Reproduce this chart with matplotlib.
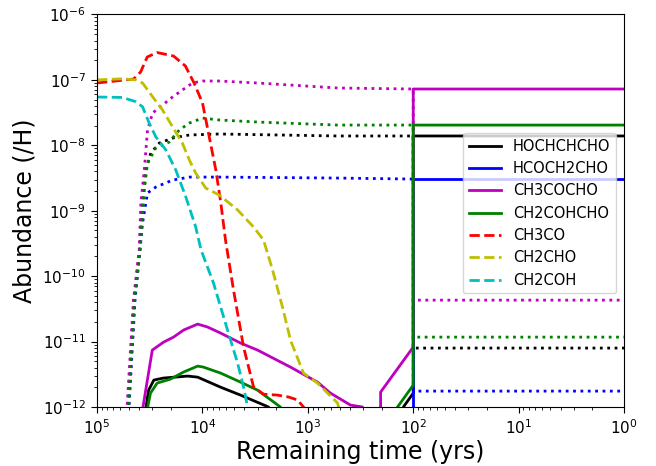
import numpy as np
import matplotlib
matplotlib.use("Agg")
import matplotlib.pyplot as plt

# ---- remaining time (yrs) and abundances (/H) ----
# Grain-surface (solid) species
t_hochchcho = [3.66e4, 3.24e4, 2.89e4, 2.34e4, 1.38e4, 1.11e4, 6.73e3, 4.35e3, 2.36e3, 2.16e3, 129, 124, 100, 100, 1]
v_hochchcho = [5e-13, 1.81e-12, 2.58e-12, 2.77e-12, 2.97e-12, 2.86e-12, 2.01e-12, 1.52e-12, 1.0e-12, 5e-13, 5e-13, 1.0e-12, 1.63e-12, 1.39e-8, 1.39e-8]

t_hcoch2cho = [100, 100, 1]
v_hcoch2cho = [5e-13, 3.05e-9, 3.05e-9]

t_ch3cocho = [3.86e4, 2.99e4, 2.34e4, 1.88e4, 1.51e4, 1.11e4, 8.95e3, 6.73e3, 4.35e3, 3.00e3, 1.46e3, 809, 610, 394, 303, 277, 204, 204, 100, 100, 1]
v_ch3cocho = [6e-13, 7.41e-12, 9.8e-12, 1.17e-11, 1.50e-11, 1.85e-11, 1.67e-11, 1.35e-11, 9.5e-12, 7.41e-12, 4.07e-12, 2.40e-12, 1.63e-12, 1.07e-12, 1.0e-12, 5e-13, 5e-13, 1.69e-12, 8.24e-12, 7.26e-8, 7.26e-8]

t_ch2cohcho = [3.60e4, 3.11e4, 2.69e4, 2.01e4, 1.51e4, 1.11e4, 9.77e3, 6.73e3, 4.35e3, 3.00e3, 1.82e3, 1.66e3, 147, 141, 100, 100, 1]
v_ch2cohcho = [5e-13, 1.63e-12, 2.32e-12, 2.67e-12, 3.42e-12, 4.22e-12, 4.07e-12, 3.30e-12, 2.40e-12, 1.81e-12, 1.0e-12, 5e-13, 5e-13, 1.0e-12, 2.16e-12, 2.04e-8, 2.04e-8]

# Radicals (dashed)
t_ch3co = [1e5, 4.51e4, 3.86e4, 3.34e4, 2.69e4, 1.88e4, 1.45e4, 1.20e4, 9.98e3, 8.61e3, 7.46e3, 6.69e3, 6.04e3, 5.07e3, 4.07e3, 3.27e3, 2.63e3, 1.94e3, 1.52e3, 1.25e3, 1.10e3, 980]
v_ch3co = [8.97e-8, 1.03e-7, 1.32e-7, 2.24e-7, 2.62e-7, 2.32e-7, 1.63e-7, 8.97e-8, 4.43e-8, 1.34e-8, 4.19e-9, 1.31e-9, 3.56e-10, 6.13e-11, 8.24e-12, 2.01e-12, 1.57e-12, 1.52e-12, 1.42e-12, 1.28e-12, 1.0e-12, 5e-13]

t_ch2cho = [1e5, 5.73e4, 4.28e4, 3.70e4, 2.97e4, 2.39e4, 1.92e4, 1.55e4, 1.33e4, 1.16e4, 9.29e3, 6.93e3, 4.64e3, 3.27e3, 2.63e3, 2.16e3, 1.74e3, 1.46e3, 1.10e3, 809, 522, 458]
v_ch2cho = [1.0e-7, 1.04e-7, 1.0e-7, 8.97e-8, 5.53e-8, 3.47e-8, 1.92e-8, 1.08e-8, 5.96e-9, 3.77e-9, 2.22e-9, 1.74e-9, 1.03e-9, 5.64e-10, 3.56e-10, 1.24e-10, 3.37e-11, 1.05e-11, 3.30e-12, 2.32e-12, 1.15e-12, 5e-13]

t_ch2coh = [1e5, 5.73e4, 4.28e4, 3.70e4, 3.20e4, 2.77e4, 2.22e4, 1.79e4, 1.44e4, 1.16e4, 1.03e4, 7.85e3, 5.78e3, 4.64e3, 4.07e3, 3.73e3, 3.53e3]
v_ch2coh = [5.48e-8, 5.39e-8, 4.64e-8, 3.89e-8, 2.19e-8, 1.35e-8, 8.47e-9, 4.19e-9, 1.64e-9, 5.69e-10, 2.51e-10, 7.84e-11, 1.50e-11, 4.69e-12, 2.01e-12, 1.0e-12, 5e-13]

# Gas-phase counterparts (dotted)
t_hochchcho_g = [5.31e4, 5.08e4, 4.46e4, 3.95e4, 3.70e4, 3.44e4, 3.09e4, 2.57e4, 1.92e4, 1.33e4, 6.93e3, 522, 100, 100, 1]
v_hochchcho_g = [5e-13, 1e-12, 4.3e-11, 2.51e-10, 1.31e-9, 4.19e-9, 7.62e-9, 1.08e-8, 1.29e-8, 1.44e-8, 1.49e-8, 1.39e-8, 1.39e-8, 7.96e-12, 7.96e-12]

t_hcoch2cho_g = [5.19e4, 4.97e4, 4.36e4, 3.91e4, 3.70e4, 3.32e4, 2.77e4, 1.92e4, 1.33e4, 6.93e3, 522, 100, 100, 1]
v_hcoch2cho_g = [5e-13, 1e-12, 4.3e-11, 2.51e-10, 6.49e-10, 1.87e-9, 2.30e-9, 2.94e-9, 3.27e-9, 3.27e-9, 3.16e-9, 3.05e-9, 1.75e-12, 1.75e-12]

t_ch3cocho_g = [5.37e4, 5.19e4, 4.51e4, 3.98e4, 3.84e4, 3.56e4, 3.32e4, 2.97e4, 2.39e4, 1.92e4, 1.55e4, 1.24e4, 9.98e3, 6.93e3, 3.00e3, 522, 100, 100, 1]
v_ch3cocho_g = [5e-13, 1e-12, 4.31e-11, 2.51e-10, 1.31e-9, 4.19e-9, 1.71e-8, 3.12e-8, 4.13e-8, 5.48e-8, 7.01e-8, 8.97e-8, 9.62e-8, 9.62e-8, 8.97e-8, 7.52e-8, 7.26e-8, 4.3e-11, 4.3e-11]

t_ch2cohcho_g = [5.25e4, 5.02e4, 4.41e4, 3.91e4, 3.56e4, 3.32e4, 2.77e4, 2.07e4, 1.66e4, 1.33e4, 9.98e3, 6.93e3, 3.00e3, 522, 100, 100, 1]
v_ch2cohcho_g = [5e-13, 1e-12, 4.3e-11, 2.51e-10, 2.07e-9, 5.36e-9, 9.1e-9, 1.12e-8, 1.71e-8, 2.19e-8, 2.61e-8, 2.44e-8, 2.27e-8, 2.04e-8, 2.04e-8, 1.17e-11, 1.17e-11]

LW = 2.0

fig = plt.figure(figsize=(6.56, 4.66), dpi=100)
ax = fig.add_axes([0.1479, 0.1266, 0.8034, 0.8423])

# dotted gas-phase curves underneath
ax.plot(t_hochchcho_g, v_hochchcho_g, 'k:', lw=LW, zorder=1)
ax.plot(t_hcoch2cho_g, v_hcoch2cho_g, 'b:', lw=LW, zorder=1)
ax.plot(t_ch3cocho_g, v_ch3cocho_g, 'm:', lw=LW, zorder=1)
ax.plot(t_ch2cohcho_g, v_ch2cohcho_g, 'g:', lw=LW, zorder=1)

ax.plot(t_hochchcho, v_hochchcho, 'k-', lw=LW, label='HOCHCHCHO', zorder=2)
ax.plot(t_hcoch2cho, v_hcoch2cho, 'b-', lw=LW, label='HCOCH2CHO', zorder=2)
ax.plot(t_ch3cocho, v_ch3cocho, 'm-', lw=LW, label='CH3COCHO', zorder=2)
ax.plot(t_ch2cohcho, v_ch2cohcho, 'g-', lw=LW, label='CH2COHCHO', zorder=2)
ax.plot(t_ch3co, v_ch3co, 'r--', lw=LW, label='CH3CO', zorder=2)
ax.plot(t_ch2cho, v_ch2cho, 'y--', lw=LW, label='CH2CHO', zorder=2)
ax.plot(t_ch2coh, v_ch2coh, 'c--', lw=LW, label='CH2COH', zorder=2)

ax.set_xscale('log')
ax.set_yscale('log')
ax.set_xlim(1e5, 1e0)
ax.set_ylim(1e-12, 1e-6)

ax.set_xlabel('Remaining time (yrs)', fontsize=17, labelpad=2)
ax.set_ylabel('Abundance (/H)', fontsize=17)
ax.tick_params(axis='both', which='major', labelsize=11, length=4.5)
ax.tick_params(axis='both', which='minor', length=2.2)

ax.legend(loc='upper right', bbox_to_anchor=(0.985, 0.698), borderaxespad=0,
          fontsize=10.5, handlelength=2.2)

fig.savefig('out.png', dpi=100)
